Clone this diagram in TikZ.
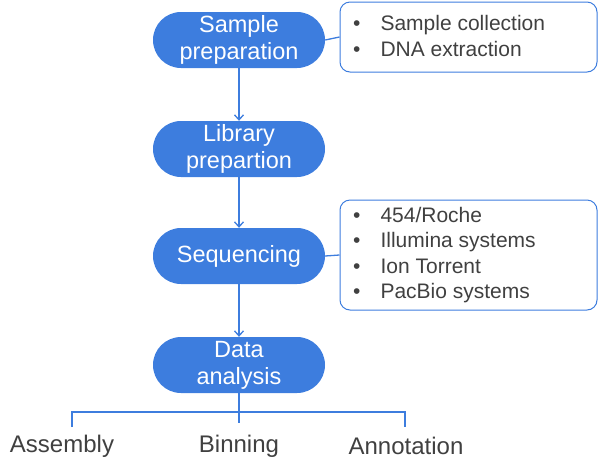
\documentclass[tikz,border=0pt]{standalone}
\usepackage{fontspec}
\setmainfont{Liberation Sans}
\usetikzlibrary{arrows.meta}
\definecolor{pill}{RGB}{61,125,222}
\definecolor{txt}{RGB}{64,64,64}
\begin{document}
\begin{tikzpicture}[x=1pt,y=-1pt,
 pillst/.style={draw=none,fill=pill,rounded corners=28pt,minimum width=172pt,minimum height=56pt,text=white,font=\fontsize{23.5}{27}\selectfont,align=center,inner sep=0pt},
 box/.style={draw=pill,line width=1pt,rounded corners=10pt,minimum width=257pt,inner sep=0pt},
 conn/.style={draw=pill,line width=1.3pt},
 arr/.style={conn,-{Straight Barb[length=5pt,width=9pt]}},
 lab/.style={text=txt,font=\fontsize{24}{26}\selectfont,inner sep=0pt},
 item/.style={text=txt,font=\fontsize{21}{25.5}\selectfont,align=left,inner sep=0pt}]
\useasboundingbox (0,0) rectangle (600,467);
\node[pillst] (p1) at (239,40) {Sample\\preparation};
\node[pillst] (p2) at (239,149) {Library\\prepartion};
\node[pillst] (p3) at (239,256) {Sequencing};
\node[pillst] (p4) at (239,365) {Data\\analysis};
\node[box,minimum height=70pt] (b1) at (468.5,37) {};
\node[box,minimum height=110pt] (b2) at (468.5,255) {};
\node[item,anchor=west] (t1) at (353,36) {•\hspace{20pt}Sample collection\\•\hspace{20pt}DNA extraction};
\node[item,anchor=west] (t2) at (353,255) {•\hspace{20pt}454/Roche\\•\hspace{20pt}Illumina systems\\•\hspace{20pt}Ion Torrent\\•\hspace{20pt}PacBio systems};
\draw[conn] (p1.east) -- (b1.west);
\draw[conn] (p3.east) -- (b2.west);
\draw[arr] (p1) -- (p2);
\draw[arr] (p2) -- (p3);
\draw[arr] (p3) -- (p4);
\node[lab] (l1) at (62,446) {Assembly};
\node[lab] (l2) at (239,446) {Binning};
\node[lab] (l3) at (406,446) {Annotation};
\coordinate (m) at (239,412);
\draw[conn] (p4.south) -- (m);
\draw[conn] (72,427) -- (72,412) -- (405,412) -- (405,427);
\draw[conn] (m) -- (239,423);
\end{tikzpicture}
\end{document}
